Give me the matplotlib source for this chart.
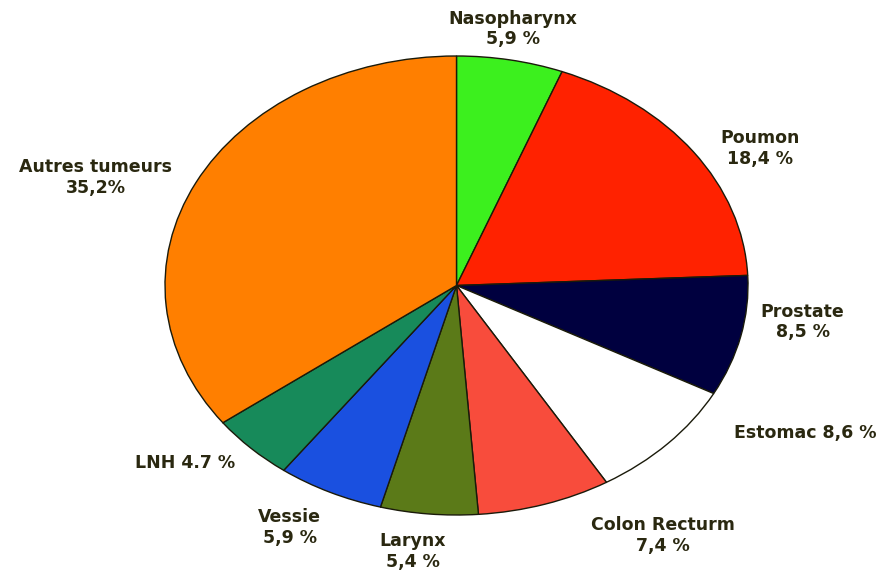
import matplotlib
matplotlib.use("Agg")
import matplotlib.pyplot as plt

# cancer share by site, clockwise from 12 o'clock
sites = ["Nasopharynx", "Poumon", "Prostate", "Estomac", "Colon Recturm",
         "Larynx", "Vessie", "LNH", "Autres tumeurs"]
shares = [5.9, 18.4, 8.5, 8.6, 7.4, 5.4, 5.9, 4.7, 35.2]
label_text = ["Nasopharynx\n5,9 %", "Poumon\n18,4 %", "Prostate\n8,5 %",
              "Estomac 8,6 %", "Colon Recturm\n7,4 %", "Larynx\n5,4 %",
              "Vessie\n5,9 %", "LNH 4.7 %", "Autres tumeurs\n35,2%"]
colors = ["#3cf01e", "#ff2200", "#00003f", "#ffffff", "#f84c3c",
          "#5b7a18", "#1a50e0", "#178a5a", "#ff7f00"]

# label anchors in figure fraction
label_pos = [(0.579, 0.949), (0.858, 0.740), (0.906, 0.435), (0.909, 0.240),
             (0.748, 0.061), (0.466, 0.032), (0.327, 0.074), (0.209, 0.188),
             (0.108, 0.689)]

W, H = 886, 570
cx, cy = 456.5, 285.5     # pie centre, px from top-left
rx, ry = 291.5, 229.5     # horizontal / vertical radius, px

fig = plt.figure(figsize=(W / 100, H / 100), dpi=100)
ax = fig.add_axes([0, 0, 1, 1])
ax.pie(shares, colors=colors, startangle=90, counterclock=False,
       radius=1, wedgeprops=dict(edgecolor="#1a1a0a", linewidth=1.0))
ax.set_aspect("auto")
ax.set_xlim(-cx / rx, (W - cx) / rx)
ax.set_ylim(-(H - cy) / ry, cy / ry)
ax.axis("off")

for txt, (x, y) in zip(label_text, label_pos):
    fig.text(x, y, txt, ha="center", va="center", fontsize=12.5,
             fontweight="bold", family="DejaVu Sans", color="#2a2810",
             linespacing=1.2)

fig.savefig("out.png", dpi=100)
